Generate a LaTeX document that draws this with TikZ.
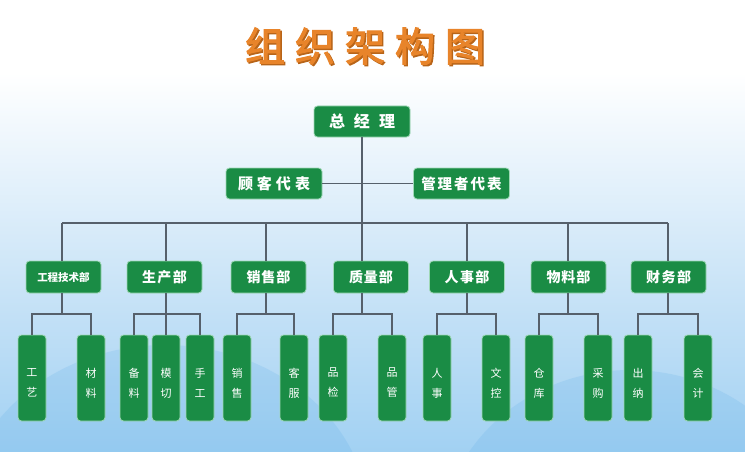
\documentclass[tikz,border=0pt]{standalone}
\usepackage{fontspec}
\setmainfont{Noto Sans CJK SC}
\newfontfamily\titlefont{Noto Sans CJK SC}[FakeBold=2.5]
\usetikzlibrary{positioning}
\definecolor{boxgreen}{HTML}{1A8C45}
\definecolor{boxedge}{HTML}{9FD8B6}
\definecolor{linegray}{HTML}{56606B}
\definecolor{titleorange}{HTML}{E8842A}
\definecolor{titleshadow}{HTML}{B86418}
\definecolor{bgbot}{HTML}{7BBFEE}
\definecolor{bgmid}{HTML}{C2E0F6}
\definecolor{wavecol}{HTML}{4FA6E6}
\pgfdeclareverticalshading{bgshade}{100bp}{color(0bp)=(bgbot); color(12bp)=(bgbot!85!bgmid); color(40bp)=(bgmid); color(67bp)=(white); color(100bp)=(white)}
\tikzset{
  box/.style={draw=boxedge, line width=0.8pt, fill=boxgreen, rounded corners=3.5pt, text=white, inner sep=0pt, align=center},
  topbox/.style={box, minimum width=96pt, minimum height=31pt},
  dept/.style={box, minimum width=75pt, minimum height=32pt, font=\bfseries\fontsize{14}{16}\selectfont},
  leaf/.style={box, minimum width=28pt, minimum height=86pt},
  leaftext/.style={text=white, align=center, font=\fontsize{11}{20}\selectfont, yshift=-5pt, inner sep=0pt},
  conn/.style={draw=linegray, line width=1.1pt}
}
\begin{document}
\begin{tikzpicture}[x=1pt,y=-1pt]
\useasboundingbox (0,0) rectangle (745,452);
% background
\shade[shading=bgshade] (0,0) rectangle (745,452);
\begin{scope}
\clip (0,0) rectangle (745,452);
\fill[wavecol, opacity=0.16] (165,525) ellipse (205 and 180);
\fill[wavecol, opacity=0.16] (630,545) ellipse (190 and 175);
\end{scope}
% title
\node[font=\titlefont\fontsize{40}{42}\selectfont, text=titleshadow] (titlesh) at (366.5,47.5) {组\hspace{10pt}织\hspace{10pt}架\hspace{10pt}构\hspace{10pt}图};
\node[font=\titlefont\fontsize{40}{42}\selectfont, text=titleorange] (title) at (365,46) {组\hspace{10pt}织\hspace{10pt}架\hspace{10pt}构\hspace{10pt}图};
% top level
\node[topbox, font=\bfseries\fontsize{16}{18}\selectfont] (gm) at (362,121.5) {总\hspace{9pt}经\hspace{9pt}理};
\node[topbox, font=\bfseries\fontsize{15}{17}\selectfont] (rep1) at (274,183.5) {顾\hspace{4pt}客\hspace{4pt}代\hspace{4pt}表};
\node[topbox, font=\bfseries\fontsize{14.5}{17}\selectfont] (rep2) at (461.5,183.5) {管\hspace{2pt}理\hspace{2pt}者\hspace{2pt}代\hspace{2pt}表};
% departments
\node[dept, font=\bfseries\fontsize{10.5}{12}\selectfont] (d1) at (63.5,277) {工程技术部};
\node[dept] (d2) at (164.5,277) {生\hspace{1.5pt}产\hspace{1.5pt}部};
\node[dept] (d3) at (268.5,277) {销\hspace{1pt}售\hspace{1pt}部};
\node[dept] (d4) at (371,277) {质\hspace{1pt}量\hspace{1pt}部};
\node[dept] (d5) at (467,277) {人\hspace{1.5pt}事\hspace{1.5pt}部};
\node[dept] (d6) at (568.5,277) {物\hspace{1pt}料\hspace{1pt}部};
\node[dept] (d7) at (668.5,277) {财\hspace{1.5pt}务\hspace{1.5pt}部};
% leaves
\foreach \n/\x/\a/\b in {1/32/工/艺, 2/91/材/料, 3/134/备/料, 4/166/模/切, 5/200/手/工,
  6/237/销/售, 7/294/客/服, 8/333/品/检, 9/392/品/管, 10/437/人/事, 11/496/文/控,
  12/539/仓/库, 13/598/采/购, 14/638/出/纳, 15/698/会/计}{
  \node[leaf] (l\n) at (\x,378) {};
  \node[leaftext] (l\n t) at (l\n.center) {\a\\\b};
}
% junction coordinates
\coordinate (busL) at (62,223);
\coordinate (busR) at (668,223);
\coordinate (gmbus) at (362,223);
\foreach \i/\x in {1/62, 2/166, 3/266, 4/362, 5/467, 6/568, 7/668}{
  \coordinate (b\i) at (\x,223);
  \coordinate (s\i) at (\x,314);
}
% connectors
\draw[conn] (gm.south) -- (gmbus);
\draw[conn] (rep1.east) -- (rep2.west);
\draw[conn] (busL) -- (busR);
\foreach \i in {1,...,7}{
  \draw[conn] (b\i) -- (b\i |- d\i.north);
  \draw[conn] (s\i |- d\i.south) -- (s\i);
}
\draw[conn] (l1.north) |- (s1) -| (l2.north);
\draw[conn] (l3.north) |- (s2) -| (l5.north);
\draw[conn] (s2) -- (l4.north);
\draw[conn] (l6.north) |- (s3) -| (l7.north);
\draw[conn] (l8.north) |- (s4) -| (l9.north);
\draw[conn] (l10.north) |- (s5) -| (l11.north);
\draw[conn] (l12.north) |- (s6) -| (l13.north);
\draw[conn] (l14.north) |- (s7) -| (l15.north);
\end{tikzpicture}
\end{document}
